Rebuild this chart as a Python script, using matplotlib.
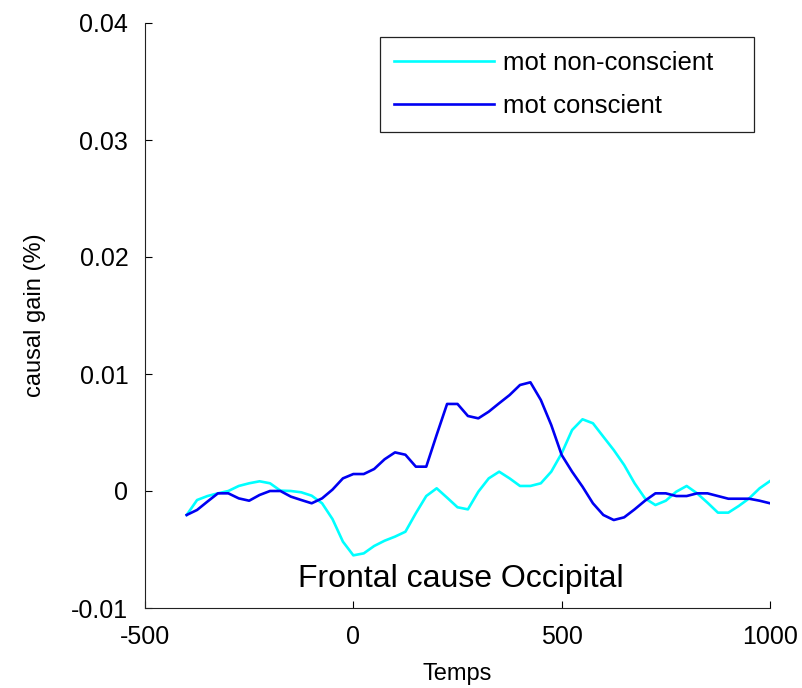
import numpy as np
import matplotlib
matplotlib.use("Agg")
import matplotlib.pyplot as plt

plt.rcParams['font.family'] = ['Liberation Sans', 'DejaVu Sans']
plt.rcParams['axes.unicode_minus'] = False

# time axis (ms)
temps = np.arange(-400, 1001, 25)

# causal gain values
non_conscient = [
    -0.00205, -0.00077, -0.00043, -0.00020, 0.00000, 0.00043, 0.00066, 0.00083,
    0.00066, 0.00003, 0.00000, -0.00011, -0.00040, -0.00105, -0.00240, -0.00433,
    -0.00550, -0.00533, -0.00470, -0.00425, -0.00390, -0.00348, -0.00190, -0.00043,
    0.00023, -0.00057, -0.00139, -0.00157, -0.00006, 0.00108, 0.00165, 0.00108,
    0.00043, 0.00043, 0.00066, 0.00165, 0.00322, 0.00521, 0.00613, 0.00579,
    0.00464, 0.00350, 0.00222, 0.00066, -0.00063, -0.00120, -0.00083, -0.00006,
    0.00043, -0.00020, -0.00100, -0.00185, -0.00185, -0.00128, -0.00063, 0.00023,
    0.00085,
]
conscient = [
    -0.00205, -0.00162, -0.00090, -0.00020, -0.00020, -0.00063, -0.00083, -0.00034,
    0.00000, 0.00000, -0.00048, -0.00077, -0.00105, -0.00063, 0.00012, 0.00108,
    0.00145, 0.00145, 0.00188, 0.00271, 0.00330, 0.00310, 0.00208, 0.00208,
    0.00480, 0.00744, 0.00744, 0.00641, 0.00621, 0.00678, 0.00750, 0.00820,
    0.00906, 0.00929, 0.00778, 0.00564, 0.00308, 0.00165, 0.00037, -0.00105,
    -0.00205, -0.00248, -0.00225, -0.00157, -0.00083, -0.00020, -0.00020, -0.00043,
    -0.00043, -0.00020, -0.00020, -0.00043, -0.00066, -0.00066, -0.00066, -0.00083,
    -0.00105,
]

xticks = [-500, 0, 500, 1000]
yticks = [-0.01, 0, 0.01, 0.02, 0.03, 0.04]
ytick_labels = ["-0.01", "0", "0.01", "0.02", "0.03", "0.04"]

fig = plt.figure(figsize=(8.02, 6.88), dpi=100)
ax = fig.add_axes([145 / 802, 1 - 608 / 688, 625 / 802, 585 / 688])

ax.plot(temps, non_conscient, color=(0, 1, 1), lw=1.9, label="mot non-conscient")
ax.plot(temps, conscient, color=(0, 0, 0.95), lw=1.9, label="mot conscient")

ax.set_xlim(-500, 1000)
ax.set_ylim(-0.01, 0.04)
ax.set_xticks(xticks)
ax.set_yticks(yticks)
ax.set_yticklabels(ytick_labels)
ax.tick_params(direction='in', length=5, width=0.8, labelsize=18, pad=12)

for side in ['top', 'right']:
    ax.spines[side].set_visible(False)
for side in ['left', 'bottom']:
    ax.spines[side].set_linewidth(0.8)
    ax.spines[side].set_color('#222222')

ax.set_xlabel("Temps", fontsize=17, labelpad=10)
ax.set_ylabel("causal gain (%)", fontsize=17, labelpad=18)

ax.text(0.506, 0.036, "Frontal cause Occipital", transform=ax.transAxes,
        ha='center', va='baseline', fontsize=23)

leg = ax.legend(loc='upper left', bbox_to_anchor=(0.376, 0.812, 0.598, 0.164),
                mode='expand', fontsize=18.5, handlelength=3.9, handletextpad=0.35,
                labelspacing=0.72, borderpad=0.55, borderaxespad=0, fancybox=False,
                framealpha=1)
leg.get_frame().set_edgecolor('#222222')
leg.get_frame().set_linewidth(0.9)

fig.savefig("out.png", dpi=100)
